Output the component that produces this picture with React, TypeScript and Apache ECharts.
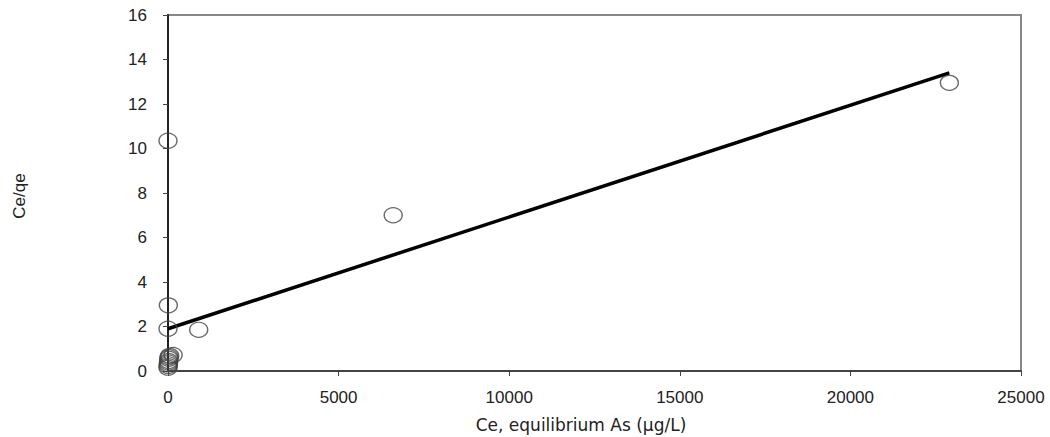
import React, { useEffect, useRef } from "react";
import * as echarts from "echarts";

const xTicks = [0, 5000, 10000, 15000, 20000, 25000];
const yTicks = [0, 2, 4, 6, 8, 10, 12, 14, 16];
const pointsX = [0, 10, 0, 900, 6600, 22900, 0, 5, 10, 15, 20, 25, 30, 50, 150];
const pointsY = [10.35, 2.95, 1.9, 1.85, 7.0, 12.95, 0.15, 0.22, 0.3, 0.38, 0.45, 0.55, 0.62, 0.68, 0.72];
const trendX = [0, 22900];
const trendY = [1.9, 13.4];

const FONT = "'Liberation Sans', Arial, sans-serif";
const WIDE = "'DejaVu Sans', sans-serif";

export default function App() {
  const ref = useRef<HTMLDivElement>(null);
  useEffect(() => {
    const chart = echarts.init(ref.current!, null, { renderer: "svg" });
    chart.setOption({
      animation: false,
      backgroundColor: "#ffffff",
      grid: { left: 168, right: 29, top: 15, bottom: 66, show: true, borderColor: "#888888", borderWidth: 2, containLabel: false },
      xAxis: {
        type: "value",
        min: xTicks[0],
        max: xTicks[xTicks.length - 1],
        interval: 5000,
        axisLine: { show: true, onZero: false, lineStyle: { color: "#444444", width: 2 } },
        axisTick: { show: true, inside: false, length: 5, lineStyle: { color: "#444444" } },
        axisLabel: { color: "#222222", fontFamily: FONT, fontSize: 17, margin: 18, formatter: (v: number) => String(v) },
        splitLine: { show: false },
      },
      yAxis: {
        type: "value",
        min: yTicks[0],
        max: yTicks[yTicks.length - 1],
        interval: 2,
        axisLine: { show: true, onZero: false, lineStyle: { color: "#222222", width: 2 } },
        axisTick: { show: true, inside: false, length: 5, lineStyle: { color: "#444444" } },
        axisLabel: { color: "#222222", fontFamily: FONT, fontSize: 17, margin: 21, formatter: (v: number) => String(v) },
        splitLine: { show: false },
      },
      graphic: [
        {
          type: "text",
          x: 19,
          y: 196,
          rotation: Math.PI / 2,
          style: { text: "Ce/qe", fontFamily: FONT, fontSize: 17, fill: "#222222", align: "center", verticalAlign: "middle" },
        },
        {
          type: "text",
          x: 581,
          y: 425,
          style: { text: "Ce, equilibrium As (μg/L)", fontFamily: WIDE, fontSize: 17, fill: "#222222", align: "center", verticalAlign: "middle" },
        },
      ],
      series: [
        {
          type: "line",
          data: trendX.map((x, i) => [x, trendY[i]]),
          showSymbol: false,
          symbol: "none",
          lineStyle: { color: "#000000", width: 3.5 },
          z: 3,
        },
        {
          type: "scatter",
          data: pointsX.map((x, i) => [x, pointsY[i]]),
          symbol: "circle",
          symbolSize: [18, 15],
          itemStyle: { color: "rgba(255,255,255,0)", borderColor: "#444444", borderWidth: 1.3 },
          z: 4,
        },
      ],
    });
    return () => chart.dispose();
  }, []);
  return <div ref={ref} style={{ width: 1050, height: 437, position: "absolute", left: 0, top: 0 }} />;
}
